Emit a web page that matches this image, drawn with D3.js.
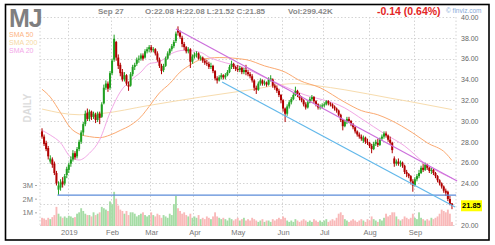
<!DOCTYPE html>
<html>
<head>
<meta charset="utf-8">
<script src="https://cdn.jsdelivr.net/npm/d3@7"></script>
<style>
  body { margin: 0; background: #fff; }
  svg { display: block; font-family: "Liberation Sans", Arial, sans-serif; }
</style>
</head>
<body>
<script>
// daily MJ prices, Dec 12 2018 .. Sep 27 2019 (one value per trading day)
const opens = [
  29.0,28.5,27.9,27.4,26.1,26.3,25.9,25.0,23.4,23.6,
  24.2,24.0,24.8,25.3,25.9,26.3,26.9,26.6,27.3,28.0,
  28.9,29.7,30.8,30.2,30.9,30.4,30.6,30.1,30.7,30.4,
  31.7,33.2,33.6,33.2,34.6,35.9,37.6,36.1,35.4,34.7,
  34.0,34.4,33.5,33.4,34.5,35.2,35.5,35.9,36.0,36.3,
  36.1,36.7,36.9,37.1,36.8,36.9,36.5,35.9,35.3,34.9,
  35.3,36.0,36.5,36.9,37.2,37.7,38.8,38.5,38.0,37.4,
  37.1,36.7,36.9,35.7,36.2,36.4,36.5,36.0,36.1,35.8,
  35.6,35.5,35.2,35.3,34.8,34.1,33.9,34.2,34.4,34.2,
  34.4,34.7,35.2,35.5,35.2,35.0,34.9,35.1,34.7,34.9,
  34.7,34.5,34.3,33.9,33.2,33.0,33.6,33.9,33.6,33.7,
  33.5,34.0,34.0,33.4,33.2,32.9,32.5,32.0,31.2,30.7,
  31.4,31.8,32.1,32.5,32.9,32.5,32.2,32.0,31.6,31.3,
  31.8,32.1,32.3,31.9,31.6,31.3,31.4,31.5,31.6,31.9,
  31.7,31.6,31.4,31.2,31.0,30.6,30.1,29.5,29.9,30.2,
  30.0,29.7,29.4,29.0,28.7,28.5,28.1,28.4,28.0,27.9,
  27.6,27.3,27.8,27.9,27.7,28.3,28.5,28.8,28.6,28.2,
  27.9,26.4,25.9,26.1,25.9,26.0,25.7,25.1,24.9,24.7,
  24.2,23.8,24.4,24.7,25.0,25.5,25.3,25.8,25.5,25.2,
  25.3,25.0,24.7,24.3,24.0,23.7,23.3,23.2,22.5,22.08
]
const highs = [
  29.3,28.7,28.1,27.6,26.7,26.5,26.1,25.2,24.2,24.4,
  24.6,24.9,25.6,26.0,26.6,27.2,27.1,27.5,28.2,29.1,
  29.9,31.0,31.2,31.1,31.0,30.9,30.8,30.9,30.9,31.8,
  33.5,33.9,33.8,34.8,36.0,38.3,37.7,36.4,35.6,35.0,
  34.7,34.5,33.8,34.7,35.4,35.6,36.1,36.3,36.5,36.5,
  36.9,37.1,37.3,37.3,37.1,37.0,36.7,36.1,35.5,35.5,
  36.2,36.7,37.0,37.4,37.8,38.6,39.1,38.7,38.2,37.6,
  37.2,37.1,37.0,36.4,36.6,36.7,36.6,36.3,36.2,36.0,
  35.9,35.7,35.6,35.4,34.9,34.3,34.4,34.6,34.5,34.6,
  34.9,35.4,35.8,35.6,35.3,35.4,35.3,35.2,35.1,35.4,
  34.9,34.7,34.5,34.0,33.4,33.8,34.1,34.0,33.9,33.8,
  34.2,34.4,34.1,33.6,33.4,33.1,32.6,32.1,31.3,31.6,
  32.0,32.3,32.7,33.3,33.0,32.7,32.4,32.1,31.8,32.0,
  32.3,32.5,32.4,32.0,31.7,31.6,31.7,31.8,32.0,32.0,
  31.8,31.7,31.5,31.3,31.1,30.7,30.2,30.1,30.4,30.4,
  30.1,29.8,29.5,29.1,28.9,28.7,28.6,28.5,28.3,28.0,
  27.8,28.0,28.2,28.3,28.4,28.7,29.0,29.0,28.7,28.5,
  28.0,26.6,26.3,26.4,26.2,26.1,25.8,25.3,25.0,24.8,
  24.4,24.6,24.9,25.3,25.7,25.9,26.0,25.9,25.6,25.5,
  25.4,25.1,24.8,24.4,24.1,23.8,23.5,23.3,22.8,22.08
]
const lows = [
  28.3,27.6,27.1,26.3,25.9,25.5,24.8,23.8,22.9,23.3,
  23.6,23.8,24.5,25.0,25.6,26.1,26.3,26.4,27.1,27.8,
  28.6,29.5,30.0,30.0,30.1,30.2,29.8,29.9,29.7,30.3,
  31.6,33.0,32.8,33.0,34.4,35.7,35.8,35.0,34.3,33.8,
  33.8,33.4,32.9,33.3,34.3,34.9,35.3,35.6,35.8,35.8,
  36.0,36.5,36.6,36.6,36.6,36.3,35.7,35.1,34.5,34.7,
  35.2,35.9,36.3,36.7,37.0,37.5,38.2,37.9,37.1,36.8,
  36.5,36.5,35.1,35.5,36.0,36.1,35.9,35.8,35.6,35.4,
  35.3,35.0,35.0,34.6,33.9,33.6,33.8,34.0,34.0,34.0,
  34.3,34.6,35.0,35.0,34.8,34.7,34.7,34.5,34.5,34.4,
  34.3,34.1,33.7,32.9,32.6,32.9,33.4,33.4,33.4,33.3,
  33.4,33.8,33.2,33.0,32.7,32.3,31.7,30.9,29.9,30.5,
  31.2,31.6,32.0,32.4,32.3,32.0,31.8,31.4,31.1,31.2,
  31.7,31.9,31.7,31.4,31.1,31.1,31.2,31.3,31.5,31.5,
  31.4,31.2,31.0,30.8,30.4,29.9,29.1,29.4,29.7,29.8,
  29.5,29.2,28.8,28.5,28.3,28.1,27.9,27.8,27.7,27.4,
  26.9,27.2,27.6,27.5,27.6,28.1,28.3,28.4,28.0,27.7,
  26.9,25.6,25.7,25.7,25.6,25.5,24.9,24.6,24.5,23.9,
  23.2,23.7,24.2,24.5,24.9,25.1,25.2,25.3,25.0,24.9,
  24.8,24.5,24.1,23.8,23.5,23.1,22.8,22.3,21.9,21.52
]
const closes = [
  28.5,27.8,27.3,26.6,26.4,25.8,25.0,24.0,23.8,24.1,
  23.9,24.7,25.4,25.8,26.3,26.9,26.5,27.3,28.0,28.9,
  29.7,30.7,30.2,30.9,30.4,30.7,30.1,30.7,30.3,31.6,
  33.2,33.6,33.1,34.6,35.8,37.9,36.1,35.3,34.6,34.0,
  34.4,33.6,33.3,34.5,35.2,35.4,35.9,36.0,36.3,36.0,
  36.7,36.9,37.1,36.8,36.9,36.5,35.9,35.3,34.8,35.3,
  36.0,36.5,36.9,37.2,37.6,38.4,38.5,38.1,37.4,37.1,
  36.7,36.9,35.7,36.2,36.4,36.5,36.0,36.1,35.8,35.6,
  35.5,35.2,35.3,34.8,34.1,33.9,34.2,34.4,34.2,34.4,
  34.7,35.2,35.5,35.2,35.0,34.9,35.1,34.7,34.9,34.7,
  34.5,34.3,33.9,33.2,33.0,33.6,33.9,33.6,33.7,33.5,
  34.0,34.1,33.4,33.2,32.9,32.5,32.0,31.2,30.7,31.4,
  31.8,32.1,32.5,32.9,32.5,32.2,32.0,31.6,31.3,31.8,
  32.1,32.3,31.9,31.6,31.3,31.4,31.5,31.6,31.9,31.7,
  31.6,31.4,31.2,31.0,30.6,30.1,29.5,29.9,30.2,30.0,
  29.7,29.4,29.0,28.7,28.5,28.3,28.4,28.0,27.9,27.6,
  27.3,27.8,28.0,27.7,28.3,28.5,28.8,28.6,28.2,27.9,
  27.2,25.9,26.1,25.9,26.0,25.7,25.1,24.9,24.7,24.2,
  23.8,24.4,24.7,25.0,25.5,25.3,25.8,25.5,25.2,25.3,
  25.0,24.7,24.3,24.0,23.7,23.3,23.1,22.5,21.99,21.85
]
// volume in millions
const volumes = [
  0.6,0.55,0.45,0.6,0.5,0.65,0.8,1.4,0.9,0.7,
  0.6,0.7,0.6,0.75,0.7,0.6,0.65,0.9,1.0,1.3,
  1.1,0.9,0.8,0.8,0.7,1.0,0.8,0.9,1.0,1.4,
  1.3,1.2,1.1,1.8,1.6,2.5,2.0,1.5,1.2,1.1,
  0.9,1.1,0.8,1.0,1.0,0.9,0.7,0.8,0.9,1.0,
  0.8,0.7,0.8,1.0,0.8,0.7,0.9,0.8,0.6,0.8,
  0.7,0.6,0.9,0.8,1.6,2.2,1.3,1.1,0.9,1.0,
  0.8,0.7,0.9,0.6,0.7,0.6,0.8,0.5,0.6,0.5,
  0.7,0.6,0.5,0.7,1.0,0.7,0.6,0.5,0.6,0.5,
  0.4,0.6,0.5,0.4,0.5,0.6,0.4,0.5,0.6,0.4,
  0.5,0.4,0.6,0.5,0.4,0.3,0.4,0.5,0.3,0.4,
  0.4,0.3,0.5,0.4,0.5,0.6,0.5,0.7,0.6,0.4,
  0.3,0.4,0.3,0.5,0.4,0.3,0.4,0.5,0.4,0.3,
  0.4,0.3,0.5,0.4,0.3,0.4,0.3,0.4,0.5,0.3,
  0.4,0.5,0.4,0.6,0.9,1.0,0.8,0.5,0.4,0.3,
  0.4,0.5,0.4,0.3,0.4,0.5,0.4,0.3,0.5,0.4,
  0.7,0.5,0.4,0.3,0.5,0.4,0.6,0.9,0.7,0.8,
  1.0,1.0,0.7,0.5,0.4,0.5,0.7,0.6,0.5,0.6,
  0.9,0.6,0.5,1.0,0.6,0.5,0.4,0.5,0.4,0.6,
  0.5,0.6,0.7,0.9,1.2,1.1,1.0,1.2,0.9,0.3
]

// moving averages: [day index, price]
const sma50 = [[0,33.05],[4,32.3],[9,30.8],[14,29.3],[18,28.75],[23,28.5],[28,28.4],[33,28.65],[38,29.1],[43,29.6],[48,30.4],[52,31.4],[57,32.7],[62,33.6],[67,34.7],[72,35.4],[77,35.9],[86,36.1],[99,35.9],[108,35.3],[118,34.7],[125,33.9],[135,33.2],[147,31.8],[155,31.0],[163,30.6],[169,30.1],[180,28.85],[187,27.9],[196,26.9],[199,26.2]]
const sma200 = [[0,31.15],[18,30.6],[28,30.7],[52,31.5],[77,32.3],[101,33.0],[123,33.6],[133,33.4],[147,33.0],[169,32.2],[179,31.85],[199,31.1]]
const sma20 = [[0,29.1],[4,28.65],[9,27.9],[14,26.5],[18,26.25],[23,26.9],[28,28.2],[33,30.8],[38,32.8],[43,33.9],[48,34.7],[52,35.5],[57,35.7],[63,36.5],[69,36.8],[77,36.6],[81,36.15],[89,35.6],[97,35.2],[108,34.2],[118,33.3],[125,32.7],[147,31.25],[156,30.1],[166,28.8],[176,27.6],[186,25.9],[199,24.5]]

// drawn trend lines: [day index, price] end points
const channelTop = [[65,38.85],[201.5,24.23]]
const channelBottom = [[87.4,33.75],[200.5,21.73]]
const supportLine = [[7.5,22.88],[201,22.88]]

const priceTicks = [20,22,24,26,28,30,32,34,36,38,40]
const priceLabels = [20,24,26,28,30,32,34,36,38,40]   // 22.00 sits under the last-price tag
const volumeTicks = [1,2,3]
const monthLabels = ['2019','Feb','Mar','Apr','May','Jun','Jul','Aug','Sep']
const holidays = ['2018-12-25','2019-01-01','2019-01-21','2019-02-18','2019-04-19','2019-05-27','2019-07-04','2019-09-02']

var width = 495, height = 245
var n = closes.length

var svg = d3.select('body').append('svg')
    .attr('width', width)
    .attr('height', height)

// trading calendar
var fmt = d3.timeFormat('%Y-%m-%d')
var days = []
var d = new Date(2018, 11, 12)
while (days.length < n) {
    var dow = d.getDay()
    if (dow > 0 && dow < 6 && holidays.indexOf(fmt(d)) < 0) days.push(new Date(d))
    d.setDate(d.getDate() + 1)
}

// first trading day of each month
var monthIdx = []
days.forEach((day, i) => {
    if (i > 0 && day.getMonth() != days[i-1].getMonth()) monthIdx.push(i)
})

var x = d3.scaleBand().domain(d3.range(n)).range([41, 453])
var bw = x.bandwidth()
var xi = d3.scaleLinear().domain([0, n-1]).range([41 + bw/2, 453 - bw/2])
var y = d3.scaleLinear().domain([20, 40]).range([225, 17])
var yv = d3.scaleLinear().domain([0, 3]).range([226, 185])

// frame
svg.append('rect')
   .attr('x', 5.5).attr('y', 4.5)
   .attr('width', 483.5).attr('height', 235.5)
   .attr('fill', 'none').attr('stroke', '#000').attr('stroke-width', 1.6)

// grid
var grid = svg.append('g').attr('stroke', '#d4d4d4').attr('stroke-dasharray', '1.5,2')
grid.selectAll('.h').data(priceTicks).enter().append('line')
    .attr('x1', 40).attr('x2', 456)
    .attr('y1', p => Math.round(y(p)) + 0.5).attr('y2', p => Math.round(y(p)) + 0.5)
var vx = [40].concat(monthIdx.map(i => Math.round(xi(i)) - 0.5)).concat([456])
grid.selectAll('.v').data(vx).enter().append('line')
    .attr('x1', v => v).attr('x2', v => v)
    .attr('y1', 17).attr('y2', 226)

// volume
svg.append('g').selectAll('rect').data(volumes).enter().append('rect')
   .attr('x', (v, i) => x(i) + 0.1)
   .attr('width', bw - 0.2)
   .attr('y', v => yv(v))
   .attr('height', v => yv(0) - yv(v))
   .attr('fill', (v, i) => closes[i] >= opens[i] ? '#a5dca5' : '#f9b9b9')

// moving averages
var avgLine = d3.line().x(p => xi(p[0])).y(p => y(p[1])).curve(d3.curveMonotoneX)
svg.append('path').datum(sma200).attr('d', avgLine).attr('fill', 'none').attr('stroke', '#f7dcae').attr('stroke-width', 1)
svg.append('path').datum(sma50).attr('d', avgLine).attr('fill', 'none').attr('stroke', '#fbaa72').attr('stroke-width', 1)
svg.append('path').datum(sma20).attr('d', avgLine).attr('fill', 'none').attr('stroke', '#f2a8e6').attr('stroke-width', 1)

// candles
var candles = svg.append('g')
closes.forEach((c, i) => {
    var o = opens[i]
    var col = c >= o ? '#1f9f1f' : '#b00000'
    var cx = xi(i)
    candles.append('line')
        .attr('x1', cx).attr('x2', cx)
        .attr('y1', y(highs[i])).attr('y2', y(lows[i]))
        .attr('stroke', col).attr('stroke-width', 1)
    candles.append('rect')
        .attr('x', cx - 1).attr('width', 2)
        .attr('y', y(Math.max(o, c)))
        .attr('height', Math.max(1, Math.abs(y(o) - y(c))))
        .attr('fill', col)
})

// trend lines
var tl = d3.line().x(p => xi(p[0])).y(p => y(p[1]))
svg.append('path').datum(supportLine).attr('d', tl).attr('stroke', '#5b8bd9').attr('stroke-width', 1.2).attr('fill', 'none')
svg.append('path').datum(channelBottom).attr('d', tl).attr('stroke', '#62b8ea').attr('stroke-width', 1.2).attr('fill', 'none')
svg.append('path').datum(channelTop).attr('d', tl).attr('stroke', '#cc6fdc').attr('stroke-width', 1.2).attr('fill', 'none')

// price axis on the right
var yAxis = svg.append('g')
   .attr('transform', 'translate(461,0)')
   .call(d3.axisRight(y).tickValues(priceLabels).tickFormat(d3.format('.2f')).tickSize(0).tickPadding(0))
yAxis.select('.domain').remove()
yAxis.selectAll('text').attr('font-size', 7).attr('fill', '#666').attr('font-family', null)

// last price tag
var last = closes[n-1]
svg.append('rect').attr('x', 461).attr('y', y(last) - 5.5).attr('width', 21).attr('height', 11).attr('fill', '#ffff00')
svg.append('text').attr('x', 462).attr('y', y(last) + 2.5)
   .attr('font-size', 7.5).attr('font-weight', 'bold').attr('fill', '#000')
   .text(d3.format('.2f')(last))

// volume axis
var vAxis = svg.append('g')
   .attr('transform', 'translate(37,0)')
   .call(d3.axisLeft(yv).tickValues(volumeTicks).tickFormat(v => v + 'M').tickSize(2).tickPadding(2))
vAxis.select('.domain').remove()
vAxis.selectAll('line').attr('stroke', '#aaa')
vAxis.selectAll('text').attr('font-size', 7.5).attr('fill', '#777').attr('font-family', null)

// month axis
var xAxis = svg.append('g')
   .attr('transform', 'translate(0,228)')
   .call(d3.axisBottom(xi).tickValues(monthIdx).tickFormat((v, k) => monthLabels[k]).tickSize(0).tickPadding(2))
xAxis.select('.domain').remove()
xAxis.selectAll('text').attr('font-size', 7.5).attr('fill', '#777').attr('font-family', null)

// header
svg.append('text').attr('x', 9).attr('y', 27).attr('font-size', 25).attr('font-weight', 'bold')
   .attr('fill', '#7f7f7f').attr('letter-spacing', -1).text('MJ')
var legend = [['SMA 50', '#fdb585'], ['SMA 200', '#f6d9a6'], ['SMA 20', '#f3a8e9']]
legend.forEach((l, k) => {
    svg.append('text').attr('x', 9).attr('y', 36.5 + k * 8.3).attr('font-size', 7).attr('fill', l[1]).text(l[0])
})
svg.append('text').attr('transform', 'translate(31,108) rotate(-90)').attr('text-anchor', 'middle')
   .attr('font-size', 10).attr('font-weight', 'bold').attr('fill', '#dcdcdc').text('DAILY')

var head = svg.append('g').attr('font-size', 8).attr('font-weight', 'bold').attr('fill', '#888')
head.append('text').attr('x', 98).attr('y', 14).text('Sep 27')
head.append('text').attr('x', 145).attr('y', 14).text('O:22.08 H:22.08 L:21.52 C:21.85')
head.append('text').attr('x', 288).attr('y', 14).text('Vol:299.42K')
svg.append('text').attr('x', 377).attr('y', 15).attr('font-size', 10.5).attr('font-weight', 'bold')
   .attr('fill', '#e32626').text('-0.14 (0.64%)')
svg.append('text').attr('x', 446).attr('y', 12.5).attr('font-size', 6.5).attr('fill', '#86abd8').text('\u00a9 finviz.com')
</script>
</body>
</html>
